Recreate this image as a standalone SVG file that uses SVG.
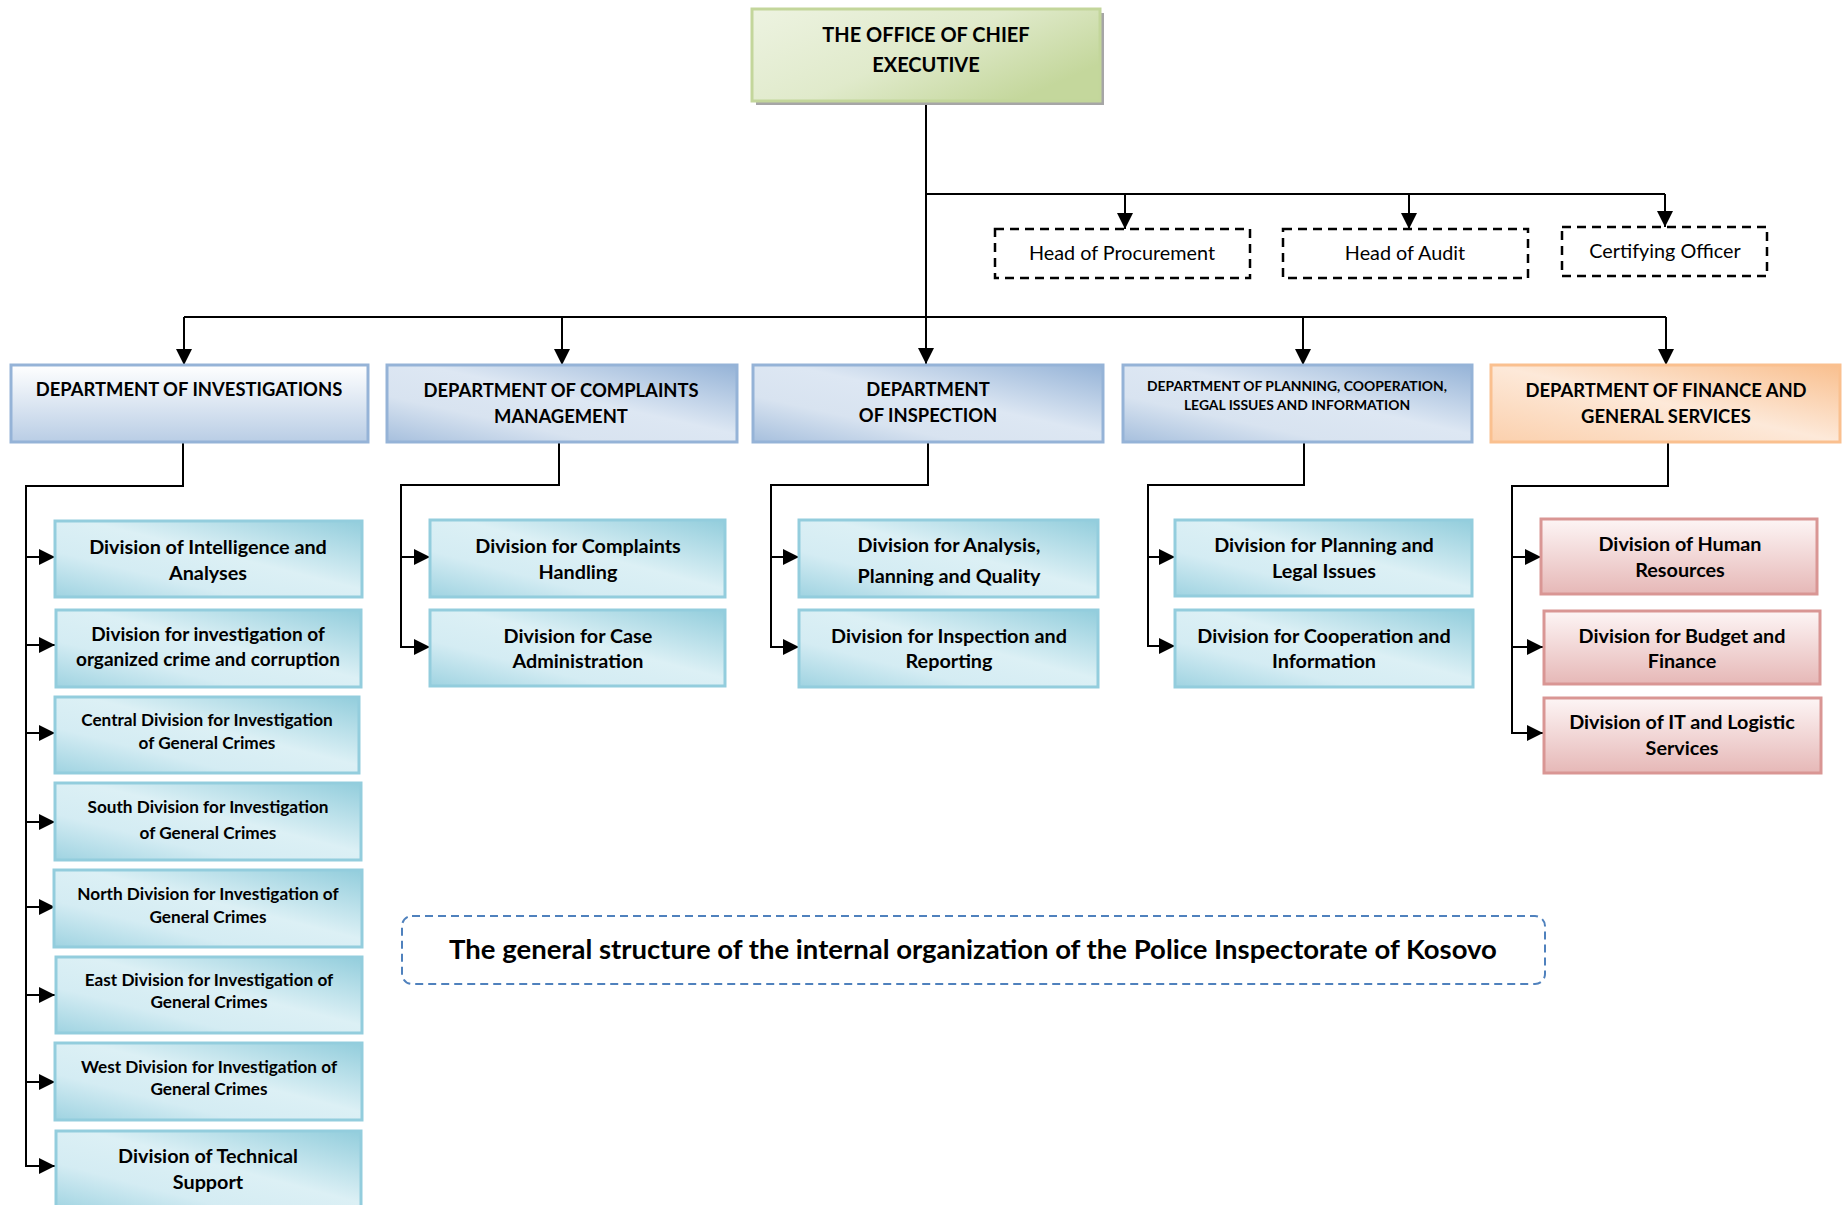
<svg xmlns="http://www.w3.org/2000/svg" width="1842" height="1205" viewBox="0 0 1842 1205">
<defs>
<linearGradient id="gGreen" x1="0" y1="0" x2="1" y2="0.6">
<stop offset="0" stop-color="#edf3e1"/><stop offset="0.55" stop-color="#e0eacb"/><stop offset="1" stop-color="#c4d79c"/>
</linearGradient>
<linearGradient id="gAqua" x1="1" y1="0" x2="0" y2="1">
<stop offset="0" stop-color="#92cddc"/><stop offset="0.45" stop-color="#dcf0f5"/><stop offset="0.7" stop-color="#d4ecf3"/><stop offset="1" stop-color="#9fd3e1"/>
</linearGradient>
<linearGradient id="gBlue" x1="1" y1="0" x2="0" y2="1">
<stop offset="0" stop-color="#95b3d7"/><stop offset="0.45" stop-color="#dde7f3"/><stop offset="0.7" stop-color="#d8e3f0"/><stop offset="1" stop-color="#a6bfdd"/>
</linearGradient>
<linearGradient id="gBlueV" x1="0" y1="0" x2="0" y2="1">
<stop offset="0" stop-color="#ffffff"/><stop offset="1" stop-color="#b9cde5"/>
</linearGradient>
<linearGradient id="gOrange" x1="1" y1="0" x2="0" y2="1">
<stop offset="0" stop-color="#f9bf8e"/><stop offset="0.5" stop-color="#fde9d9"/><stop offset="1" stop-color="#fbd0ad"/>
</linearGradient>
<linearGradient id="gPink" x1="0" y1="0" x2="0" y2="1">
<stop offset="0" stop-color="#fdf5f5"/><stop offset="1" stop-color="#e6b8b7"/>
</linearGradient>
<marker id="arr" markerUnits="userSpaceOnUse" markerWidth="16" markerHeight="16" refX="16" refY="8" orient="auto">
<path d="M0,0 L16,8 L0,16 Z" fill="#000"/>
</marker>
</defs>
<style>
.t{font-family:Lato,"Open Sans",sans-serif;font-weight:bold;fill:#000;text-anchor:middle}
.r{font-family:Lato,"Open Sans",sans-serif;font-weight:normal;fill:#000;text-anchor:middle;font-size:19.8px}
.dept{font-size:18.4px}
.div{font-size:19.8px}
.divs{font-size:17.2px}
.aqua{fill:url(#gAqua);stroke:#93cddd;stroke-width:3}
.blue{fill:url(#gBlue);stroke:#95b3d7;stroke-width:3}
.pink{fill:url(#gPink);stroke:#d99694;stroke-width:3}
.dash{fill:#fff;stroke:#000;stroke-width:2.5;stroke-dasharray:9 6}
.c{fill:none;stroke:#000;stroke-width:2}
.a{fill:none;stroke:#000;stroke-width:2;marker-end:url(#arr)}
</style>
<g id="connectors">
<path class="a" d="M926,101 V364"/>
<path class="c" d="M926,194 H1665"/>
<path class="a" d="M1125,194 V229"/>
<path class="a" d="M1409,194 V229"/>
<path class="a" d="M1665,194 V227"/>
<path class="c" d="M184,317 H1666"/>
<path class="a" d="M184,317 V365"/>
<path class="a" d="M562,317 V365"/>
<path class="a" d="M1303,317 V365"/>
<path class="a" d="M1666,317 V365"/>
<path class="a" d="M183,442 V486 H26 V1166 H55"/>
<path class="a" d="M26,557 H55"/>
<path class="a" d="M26,645 H55"/>
<path class="a" d="M26,733 H55"/>
<path class="a" d="M26,822 H55"/>
<path class="a" d="M26,907 H55"/>
<path class="a" d="M26,995 H55"/>
<path class="a" d="M26,1082 H55"/>
<path class="a" d="M559,442 V485 H401 V647 H430"/>
<path class="a" d="M401,557 H430"/>
<path class="a" d="M928,442 V485 H771 V647 H799"/>
<path class="a" d="M771,557 H799"/>
<path class="a" d="M1304,442 V485 H1148 V646 H1175"/>
<path class="a" d="M1148,557 H1175"/>
<path class="a" d="M1668,442 V486 H1512 V733 H1543"/>
<path class="a" d="M1512,557 H1541"/>
<path class="a" d="M1512,647 H1543"/>
</g>
<g id="chief">
<rect x="756" y="13" width="348" height="92" fill="#a6a6a6"/>
<rect x="752" y="9" width="348" height="92" fill="url(#gGreen)" stroke="#c3d69b" stroke-width="3"/>
<text class="t" font-size="20" x="926" y="42">THE OFFICE OF CHIEF</text>
<text class="t" font-size="20" x="926" y="72">EXECUTIVE</text>
</g>
<g id="procurement"><rect class="dash" x="995" y="229" width="255" height="49"/><text class="r" x="1122" y="260">Head of Procurement</text></g>
<g id="audit"><rect class="dash" x="1283" y="229" width="245" height="49"/><text class="r" x="1405" y="260">Head of Audit</text></g>
<g id="certifying"><rect class="dash" x="1562" y="227" width="205" height="49"/><text class="r" x="1665" y="258">Certifying Officer</text></g>
<g id="dept-investigations"><rect x="11" y="365" width="357" height="77" fill="url(#gBlueV)" stroke="#95b3d7" stroke-width="3"/><text class="t dept" x="189" y="396">DEPARTMENT OF INVESTIGATIONS</text></g>
<g id="dept-complaints"><rect class="blue" x="387" y="365" width="350" height="77"/><text class="t dept" x="561" y="397">DEPARTMENT OF COMPLAINTS</text><text class="t dept" x="561" y="423">MANAGEMENT</text></g>
<g id="dept-inspection"><rect class="blue" x="753" y="365" width="350" height="77"/><text class="t dept" x="928" y="396">DEPARTMENT</text><text class="t dept" x="928" y="422">OF INSPECTION</text></g>
<g id="dept-planning"><rect class="blue" x="1123" y="365" width="349" height="77"/><text class="t" font-size="13.9" x="1297" y="391">DEPARTMENT OF PLANNING, COOPERATION,</text><text class="t" font-size="13.9" x="1297" y="410">LEGAL ISSUES AND INFORMATION</text></g>
<g id="dept-finance"><rect x="1491" y="365" width="349" height="77" fill="url(#gOrange)" stroke="#fac08f" stroke-width="3"/><text class="t dept" x="1666" y="397">DEPARTMENT OF FINANCE AND</text><text class="t dept" x="1666" y="423">GENERAL SERVICES</text></g>
<g id="div-intelligence"><rect class="aqua" x="55" y="521" width="307" height="76"/><text class="t div" x="208" y="554">Division of Intelligence and</text><text class="t div" x="208" y="580">Analyses</text></g>
<g id="div-organized"><rect class="aqua" x="56" y="610" width="305" height="77"/><text class="t" font-size="19" x="208" y="641">Division for investigation of</text><text class="t" font-size="19" x="208" y="666">organized crime and corruption</text></g>
<g id="div-central"><rect class="aqua" x="55" y="697" width="304" height="76"/><text class="t divs" x="207" y="726">Central Division for Investigation</text><text class="t divs" x="207" y="749">of General Crimes</text></g>
<g id="div-south"><rect class="aqua" x="55" y="783" width="306" height="77"/><text class="t divs" x="208" y="813">South Division for Investigation</text><text class="t divs" x="208" y="839">of General Crimes</text></g>
<g id="div-north"><rect class="aqua" x="54" y="870" width="308" height="77"/><text class="t divs" x="208" y="900">North Division for Investigation of</text><text class="t divs" x="208" y="923">General Crimes</text></g>
<g id="div-east"><rect class="aqua" x="56" y="957" width="306" height="76"/><text class="t divs" x="209" y="986">East Division for Investigation of</text><text class="t divs" x="209" y="1008">General Crimes</text></g>
<g id="div-west"><rect class="aqua" x="55" y="1043" width="307" height="77"/><text class="t divs" x="209" y="1073">West Division for Investigation of</text><text class="t divs" x="209" y="1095">General Crimes</text></g>
<g id="div-technical"><rect class="aqua" x="56" y="1131" width="305" height="80"/><text class="t div" x="208" y="1163">Division of Technical</text><text class="t div" x="208" y="1189">Support</text></g>
<g id="div-complaints-handling"><rect class="aqua" x="430" y="520" width="295" height="77"/><text class="t div" x="578" y="553">Division for Complaints</text><text class="t div" x="578" y="579">Handling</text></g>
<g id="div-case-admin"><rect class="aqua" x="430" y="610" width="295" height="76"/><text class="t div" x="578" y="643">Division for Case</text><text class="t div" x="578" y="668">Administration</text></g>
<g id="div-analysis"><rect class="aqua" x="799" y="520" width="299" height="77"/><text class="t div" x="949" y="552">Division for Analysis,</text><text class="t div" x="949" y="583">Planning and Quality</text></g>
<g id="div-inspection-reporting"><rect class="aqua" x="799" y="610" width="299" height="77"/><text class="t div" x="949" y="643">Division for Inspection and</text><text class="t div" x="949" y="668">Reporting</text></g>
<g id="div-planning-legal"><rect class="aqua" x="1175" y="520" width="297" height="76"/><text class="t div" x="1324" y="552">Division for Planning and</text><text class="t div" x="1324" y="578">Legal Issues</text></g>
<g id="div-cooperation"><rect class="aqua" x="1175" y="610" width="298" height="77"/><text class="t div" x="1324" y="643">Division for Cooperation and</text><text class="t div" x="1324" y="668">Information</text></g>
<g id="div-hr"><rect class="pink" x="1541" y="519" width="276" height="75"/><text class="t div" x="1680" y="551">Division of Human</text><text class="t div" x="1680" y="577">Resources</text></g>
<g id="div-budget"><rect class="pink" x="1544" y="611" width="276" height="73"/><text class="t div" x="1682" y="643">Division for Budget and</text><text class="t div" x="1682" y="668">Finance</text></g>
<g id="div-it"><rect class="pink" x="1544" y="698" width="277" height="75"/><text class="t div" x="1682" y="729">Division of IT and Logistic</text><text class="t div" x="1682" y="755">Services</text></g>
<g id="caption"><rect x="402" y="916" width="1143" height="68" rx="10" fill="none" stroke="#4f81bd" stroke-width="2" stroke-dasharray="8 5"/><text class="t" font-size="27.5" x="973" y="959">The general structure of the internal organization of the Police Inspectorate of Kosovo</text></g>
</svg>
